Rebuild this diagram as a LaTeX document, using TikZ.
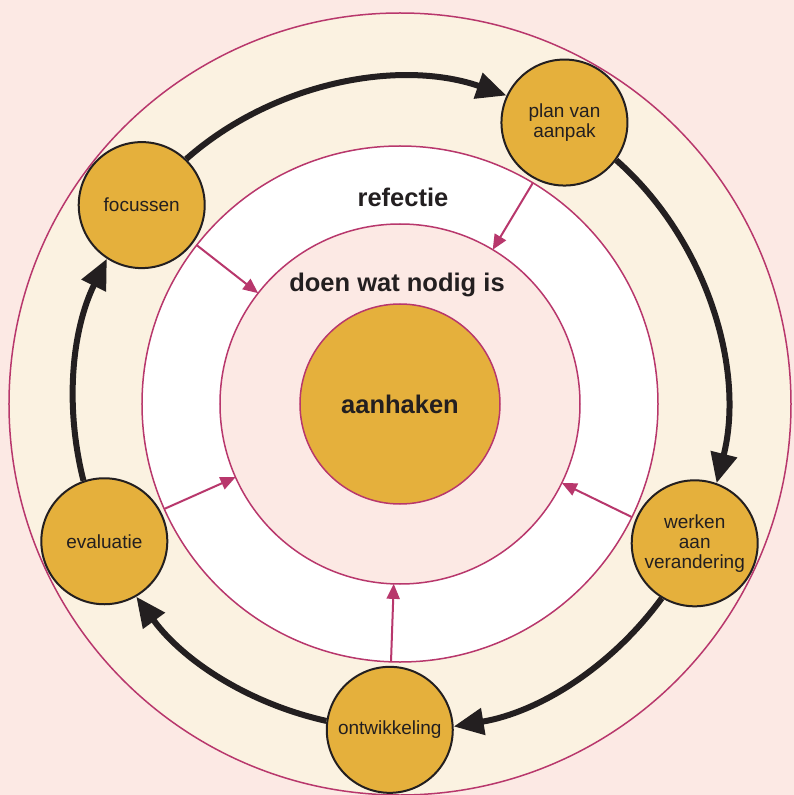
\documentclass[tikz,border=0pt]{standalone}
\usepackage{fontspec}
\setmainfont{Liberation Sans}
\usepackage{tikz}
\usetikzlibrary{arrows.meta}

\definecolor{achtergrond}{HTML}{FCE9E4}
\definecolor{creme}{HTML}{FBF2E1}
\definecolor{goud}{HTML}{E5B03C}
\definecolor{roze}{HTML}{B8376C}
\definecolor{zwart}{HTML}{231F20}

\tikzset{
  ring/.style={circle, draw=roze, line width=1.5pt, inner sep=0pt, outer sep=0pt},
  fase/.style={circle, draw=zwart, line width=2pt, fill=goud, minimum size=126pt,
    inner sep=0pt, align=center, text=zwart, font=\fontsize{19}{20}\selectfont},
  kop/.style={text=zwart, font=\bfseries\fontsize{25.5}{28}\selectfont},
  cyclus/.style={zwart, line width=6pt, -{Triangle[length=30pt,width=26pt]}},
  pijl/.style={roze, line width=2pt, -{Triangle[length=15pt,width=13pt]}}
}

\begin{document}
\begin{tikzpicture}[x=1pt,y=1pt]
    \fill[achtergrond] (-400,-391) rectangle (394,404);
    \useasboundingbox (-400,-391) rectangle (394,404);

    % ringen
    \node[ring, fill=creme, minimum size=782pt] (buiten) at (0,0) {};
    \node[ring, fill=white, minimum size=516pt] (wit) at (0,0) {};
    \node[ring, fill=achtergrond, minimum size=360pt] (binnen) at (0,0) {};
    \node[ring, fill=goud, minimum size=200pt, kop] (aanhaken) at (0,0) {aanhaken};

    \node[kop] (refectie) at (3,207) {refectie};
    \node[kop] (nodig) at (-3,119) {doen wat nodig is};

    \foreach \a in {142.4, 59.7, 334.7, 268.2, 204.9}
        \draw[pijl] (wit.\a) -- (binnen.\a);

    % fasen
    \node[fase] (focussen) at (142.4:326) {focussen};
    \node[fase] (plan) at (59.7:326) {plan van\\aanpak};
    \node[fase] (werken) at (-25.3:326) {werken\\aan\\verandering};
    \node[fase] (ontwikkeling) at (-91.8:326) {ontwikkeling};
    \node[fase] (evaluatie) at (204.9:326) {evaluatie};

    % cyclus, bogen op r=326
    \foreach \van/\uit/\naar/\in/\b in {focussen/46.86/plan/155.25/30.26,
        plan/324.15/werken/70.25/31.41,
        werken/239.15/ontwikkeling/3.75/22.16,
        ontwikkeling/172.66/evaluatie/300.45/20.56,
        evaluatie/109.36/focussen/237.95/20.16}
        \draw[cyclus] (\van.\uit) to[bend left=\b, looseness=0.9] (\naar.\in);
\end{tikzpicture}
\end{document}
